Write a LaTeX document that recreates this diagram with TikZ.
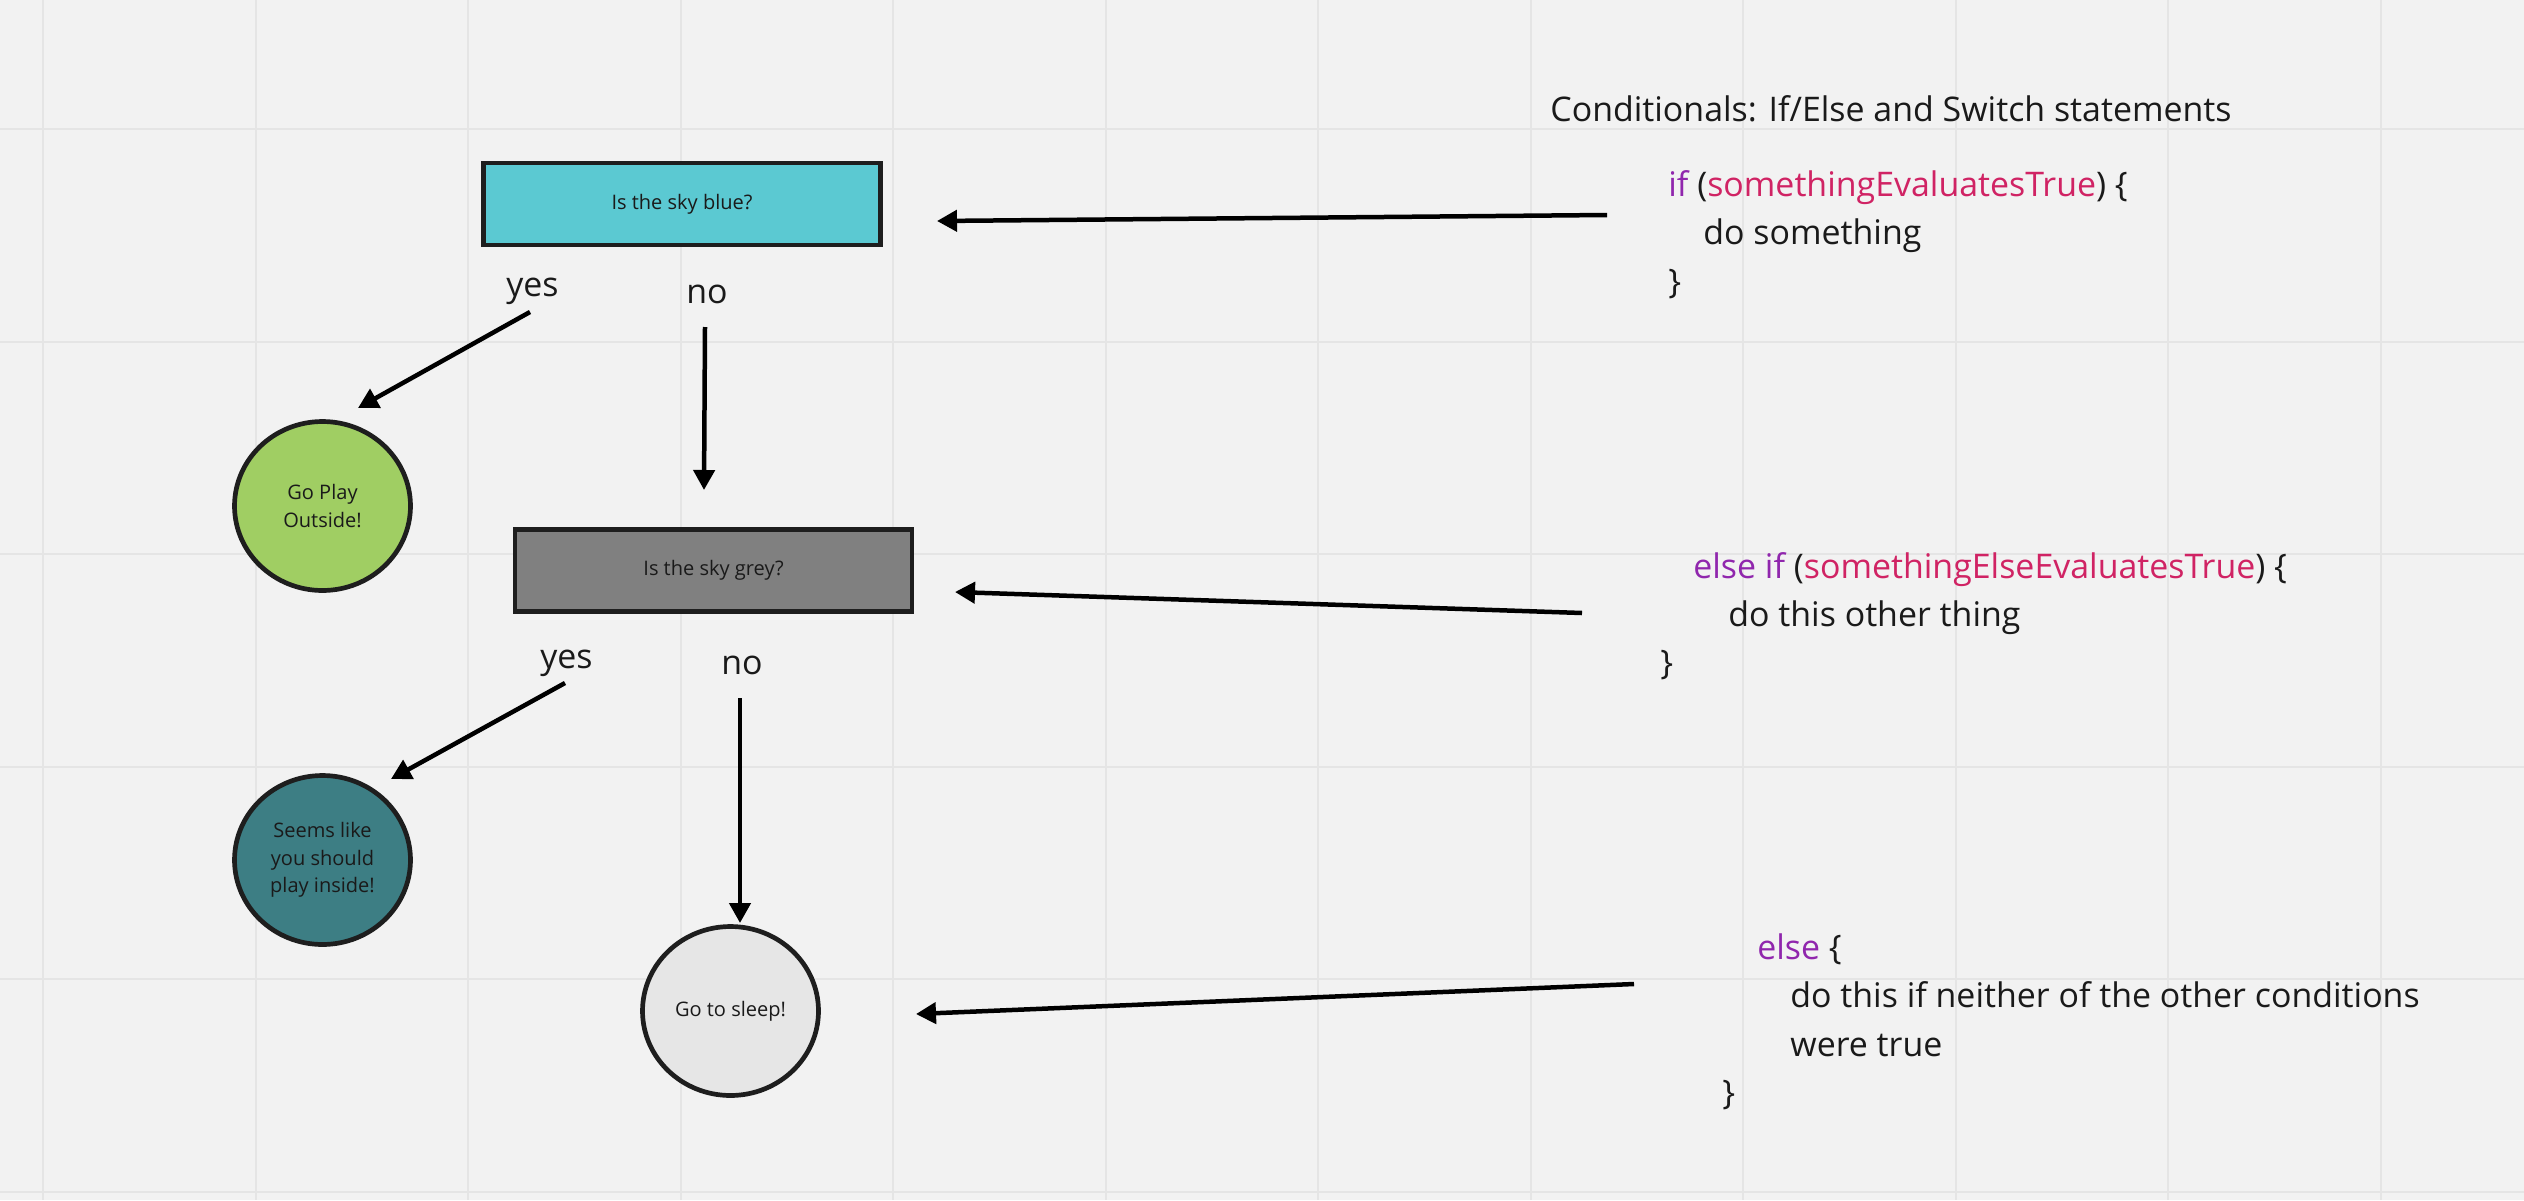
\documentclass[tikz,border=0pt]{standalone}
\usepackage{fontspec}
\setmainfont{Open Sans}
\usetikzlibrary{arrows.meta,shapes.geometric}
\definecolor{bg}{RGB}{242,242,242}
\definecolor{gridc}{RGB}{229,229,229}
\definecolor{ink}{RGB}{26,26,26}
\definecolor{edge}{RGB}{30,30,30}
\definecolor{skyblue}{RGB}{91,201,210}
\definecolor{playgreen}{RGB}{160,206,99}
\definecolor{skygrey}{RGB}{128,128,128}
\definecolor{tealc}{RGB}{61,126,132}
\definecolor{sleepc}{RGB}{230,230,230}
\definecolor{kwpurple}{RGB}{144,38,173}
\definecolor{condpink}{RGB}{208,35,100}
\newcommand{\codefnt}{\fontsize{19.3pt}{27pt}\selectfont}
\newcommand{\nodefnt}{\fontsize{11.4pt}{15.6pt}\selectfont}
\begin{document}
\begin{tikzpicture}[x=0.02cm,y=-0.02cm,
  gridline/.style={draw=gridc,line width=0.04cm},
  boxnode/.style={draw=edge,line width=0.094cm,rectangle,inner sep=0pt,outer sep=0pt,
    minimum width=7.94cm,minimum height=1.64cm,text=ink,font=\nodefnt},
  roundnode/.style={draw=edge,line width=0.094cm,ellipse,inner sep=0pt,outer sep=0pt,
    minimum width=3.52cm,minimum height=3.38cm,text=ink,font=\nodefnt,align=center},
  lbl/.style={anchor=base west,inner sep=0pt,text=ink,font=\codefnt},
  conn/.style={draw=black,line width=0.09cm,-{Triangle[length=0.4cm,width=0.42cm]}}
]
\useasboundingbox (0,0) rectangle (2524,1200);
\fill[bg] (0,0) rectangle (2524,1200);
\foreach \gx in {0,...,11} \draw[gridline] (43.3+212.5*\gx,0) -- (43.3+212.5*\gx,1200);
\foreach \gy in {0,...,5} \draw[gridline] (0,129+212.5*\gy) -- (2524,129+212.5*\gy);

% flowchart nodes
\node[boxnode,fill=skyblue] (blue) at (682,204) {Is the sky blue?};
\node[boxnode,fill=skygrey] (grey) at (713.5,570.5) {Is the sky grey?};
\node[roundnode,fill=playgreen] (outside) at (322.5,506) {Go Play\\Outside!};
\node[roundnode,fill=tealc] (inside) at (322.5,860) {Seems like\\you should\\play inside!};
\node[roundnode,fill=sleepc] (sleep) at (730.5,1011) {Go to sleep!};

% branch labels
\node[lbl] (yes1) at (506,296) {yes};
\node[lbl] (no1) at (686,303) {no};
\node[lbl] (yes2) at (540,668) {yes};
\node[lbl] (no2) at (721,674) {no};

% code text
\node[lbl] (title) at (1550,121) {Conditionals: If/Else and Switch statements};
\node[lbl] (c1a) at (1668,196) {\textcolor{kwpurple}{if} (\textcolor{condpink}{somethingEvaluatesTrue}) \{};
\node[lbl] (c1b) at (1703,244.5) {do something};
\node[lbl] (c1c) at (1668,293) {\}};
\node[lbl] (c2a) at (1693,578) {\textcolor{kwpurple}{else if} (\textcolor{condpink}{somethingElseEvaluatesTrue}) \{};
\node[lbl] (c2b) at (1728,626) {do this other thing};
\node[lbl] (c2c) at (1660,674) {\}};
\node[lbl] (c3a) at (1757,959) {\textcolor{kwpurple}{else} \{};
\node[lbl] (c3b) at (1790,1007) {do this if neither of the other conditions};
\node[lbl] (c3c) at (1790,1056) {were true};
\node[lbl] (c3d) at (1722,1104) {\}};

% connector end points
\coordinate (y1s) at (530,312);
\coordinate (y1e) at (358,408);
\coordinate (n1s) at (705,327);
\coordinate (n1e) at (704,490);
\coordinate (y2s) at (565,683);
\coordinate (y2e) at (391,779);
\coordinate (n2s) at (740,698);
\coordinate (n2e) at (740,923);
\coordinate (a1s) at (1607,215);
\coordinate (a1e) at (937,221);
\coordinate (a2s) at (1582,613);
\coordinate (a2e) at (955,592);
\coordinate (a3s) at (1634,984);
\coordinate (a3e) at (916,1014);

\draw[conn] (y1s) -- (y1e);
\draw[conn] (n1s) -- (n1e);
\draw[conn] (y2s) -- (y2e);
\draw[conn] (n2s) -- (n2e);
\draw[conn] (a1s) -- (a1e);
\draw[conn] (a2s) -- (a2e);
\draw[conn] (a3s) -- (a3e);
\end{tikzpicture}
\end{document}
